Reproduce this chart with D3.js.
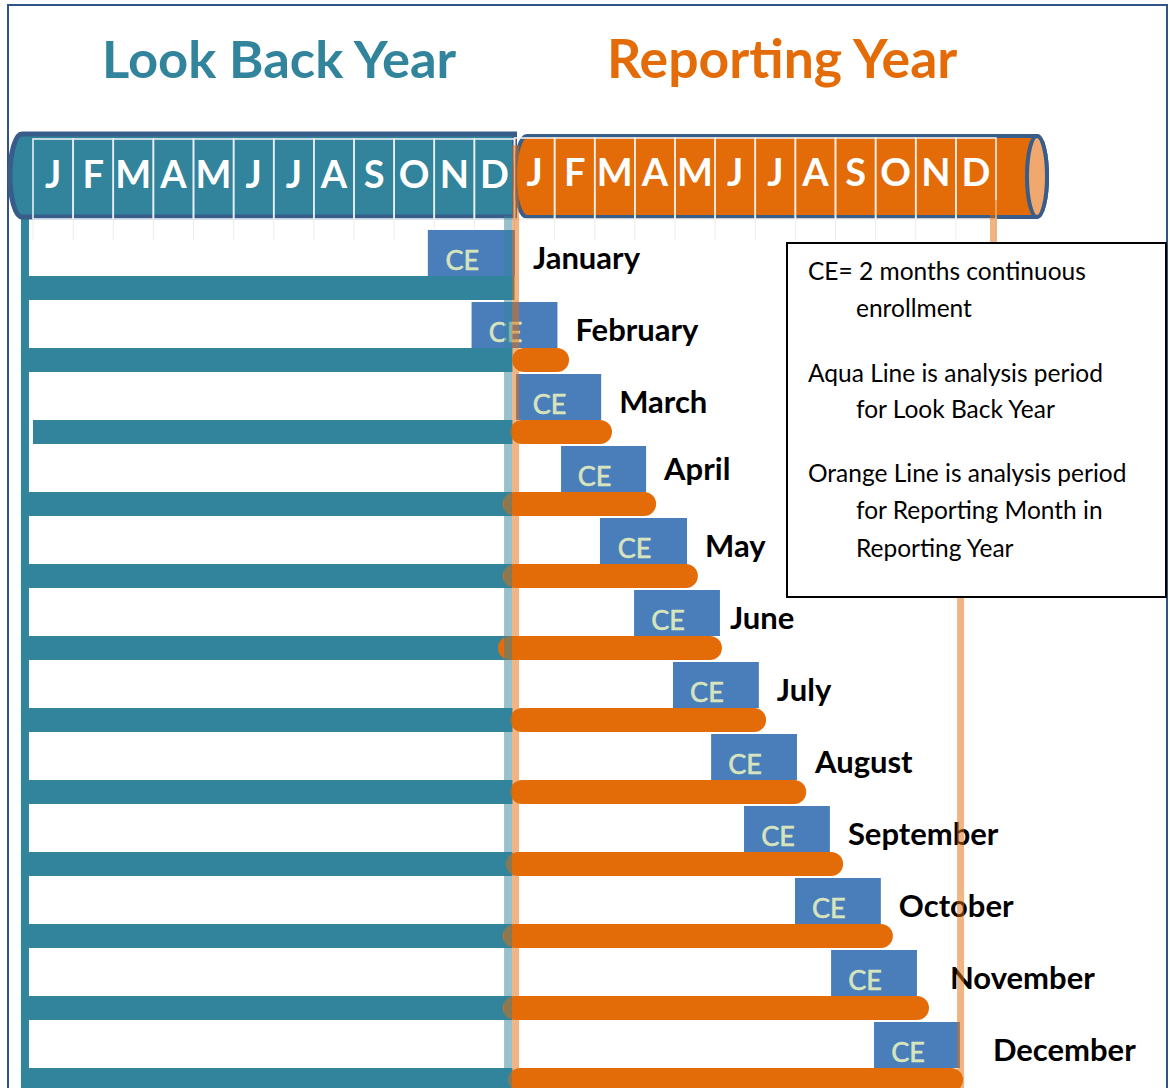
<!DOCTYPE html>
<html>
<head>
<meta charset="utf-8">
<script src="https://cdn.jsdelivr.net/npm/d3@7"></script>
<style>
  html, body { margin: 0; padding: 0; background: #ffffff; }
  svg { display: block; }
  text { font-family: "Lato", "Open Sans", sans-serif; }
</style>
</head>
<body>
<div id="chart"></div>
<script>
// ---------------- DATA (month units: 0 = start of Look Back Year Jan, 12 = start of Reporting Year Jan) ----------------
const reportingMonths = ["January","February","March","April","May","June","July","August","September","October","November","December"];
const headerLetters   = ["J","F","M","A","M","J","J","A","S","O","N","D"];
const yearTitles      = ["Look Back Year", "Reporting Year"];

// aqua (look back year) analysis period per row
const lookBackStart = [-0.3, -0.3, 0.0, -0.3, -0.3, -0.3, -0.3, -0.3, -0.3, -0.3, -0.3, -0.3];
const lookBackEnd   = [12.0, 11.95, 11.95, 11.95, 11.95, 11.95, 11.95, 11.95, 11.95, 11.95, 11.95, 11.95];

// orange (reporting year) analysis period per row (null = none)
const reportStart = [null, 11.94, 11.89, 11.71, 11.71, 11.59, 11.89, 11.89, 11.79, 11.71, 11.71, 11.84];
const reportEnd   = [null, 13.36, 14.43, 15.53, 16.57, 17.17, 18.27, 19.27, 20.19, 21.43, 22.33, 23.18];

// CE (2 months continuous enrollment) boxes
const ceStart = [9.84, 10.93, 12.04, 13.16, 14.13, 14.98, 15.95, 16.90, 17.72, 18.99, 19.89, 20.96];
const ceEnd   = [12.01, 13.07, 14.16, 15.28, 16.30, 17.12, 18.09, 19.04, 19.86, 21.13, 22.03, 23.10];

const legendLines = [
  {text: "CE= 2 months continuous", indent: false},
  {text: "enrollment", indent: true},
  {text: "Aqua Line is analysis period", indent: false},
  {text: "for Look Back Year", indent: true},
  {text: "Orange Line is analysis period", indent: false},
  {text: "for Reporting Month in", indent: true},
  {text: "Reporting Year", indent: true}
];

// ---------------- LAYOUT ----------------
const W = 1170, H = 1088;
const AQUA = "#31849b", ORANGE = "#e36c09", OUTLINE = "#385d8a", CEBLUE = "#4a7ebb", CETEXT = "#d7e4bd";

const svg = d3.select("#chart").append("svg").attr("width", W).attr("height", H);

const x = d3.scaleLinear().domain([0, 24]).range([33, 996]);
const y = d3.scalePoint().domain(reportingMonths).range([288, 1080]);
const BAR = 24;

// outer frame
svg.append("rect").attr("x", 8).attr("y", 5).attr("width", 1159).attr("height", 1120)
  .attr("fill", "none").attr("stroke", "#2e548a").attr("stroke-width", 2);

// titles
svg.append("text").attr("x", 102).attr("y", 78).attr("font-size", 52.5).attr("font-weight", 700)
  .attr("fill", AQUA).text(yearTitles[0]);
svg.append("text").attr("x", 607).attr("y", 78).attr("font-size", 53.5).attr("font-weight", 700)
  .attr("fill", ORANGE).text(yearTitles[1]);

// faint guide ticks below the header
svg.append("g").selectAll("line").data(d3.range(0, 25)).join("line")
  .attr("x1", d => x(d)).attr("x2", d => x(d)).attr("y1", 218).attr("y2", 240)
  .attr("stroke", "#ececec").attr("stroke-width", 1);

// aqua spine
const spineX = x(-0.3);
svg.append("rect").attr("x", spineX).attr("y", 200).attr("width", 8).attr("height", H - 200).attr("fill", AQUA);

// ----- Left cylinder (look back year) -----
const ltop = 134, lbot = 217;
svg.append("path")
  .attr("d", `M22,${ltop} H${x(12)} V${lbot} H22 A12 ${(lbot-ltop)/2} 0 0 1 22,${ltop} Z`)
  .attr("fill", AQUA).attr("stroke", OUTLINE).attr("stroke-width", 5);
const lCells = svg.append("g");
lCells.selectAll("rect").data(d3.range(0, 12)).join("rect")
  .attr("x", d => x(d)).attr("width", d => x(d + 1) - x(d)).attr("y", 139).attr("height", lbot - 139 + 2)
  .attr("fill", "none").attr("stroke", "#e8eef3").attr("stroke-width", 1.6);
lCells.selectAll("text").data(d3.range(0, 12)).join("text")
  .attr("x", d => (x(d) + x(d + 1)) / 2).attr("y", 188).attr("text-anchor", "middle")
  .attr("font-size", 38).attr("font-weight", 700).attr("fill", "#ffffff")
  .text(d => headerLetters[d]);

// ----- Right cylinder (reporting year) -----
const rtop = 136, rbot = 217, rEnd = 1037;
svg.append("path")
  .attr("d", `M527,${rtop} H${rEnd} A10 ${(rbot-rtop)/2} 0 0 1 ${rEnd},${rbot} H527 A12 ${(rbot-rtop)/2} 0 0 1 527,${rtop} Z`)
  .attr("fill", ORANGE).attr("stroke", OUTLINE).attr("stroke-width", 4);
svg.append("ellipse").attr("cx", rEnd).attr("cy", (rtop + rbot) / 2).attr("rx", 10).attr("ry", (rbot - rtop) / 2)
  .attr("fill", "#f0a86e").attr("stroke", OUTLINE).attr("stroke-width", 4);
const rCells = svg.append("g");
rCells.selectAll("rect").data(d3.range(12, 24)).join("rect")
  .attr("x", d => x(d)).attr("width", d => x(d + 1) - x(d)).attr("y", rtop + 2).attr("height", rbot - rtop)
  .attr("fill", "none").attr("stroke", "#f3efe9").attr("stroke-width", 1.6);
rCells.selectAll("text").data(d3.range(12, 24)).join("text")
  .attr("x", d => (x(d) + x(d + 1)) / 2).attr("y", 186).attr("text-anchor", "middle")
  .attr("font-size", 38).attr("font-weight", 700).attr("fill", "#ffffff")
  .text(d => headerLetters[d - 12]);

// ----- rows -----
const rows = reportingMonths.map((m, i) => ({
  m, i, lbS: lookBackStart[i], lbE: lookBackEnd[i], rS: reportStart[i], rE: reportEnd[i], cS: ceStart[i], cE: ceEnd[i]
}));

// CE boxes
const ce = svg.append("g");
ce.selectAll("rect").data(rows).join("rect")
  .attr("x", d => x(d.cS)).attr("width", d => x(d.cE) - x(d.cS))
  .attr("y", d => y(d.m) - BAR / 2 - 46).attr("height", 46)
  .attr("fill", CEBLUE);
ce.selectAll("text").data(rows).join("text")
  .attr("x", d => (x(d.cS) + x(d.cE)) / 2 - 9).attr("y", d => y(d.m) - BAR / 2 - 6)
  .attr("text-anchor", "middle").attr("font-size", 27).attr("fill", CETEXT)
  .attr("stroke", CETEXT).attr("stroke-width", 0.6)
  .text("CE");

// aqua bars
svg.append("g").selectAll("rect").data(rows).join("rect")
  .attr("x", d => x(d.lbS)).attr("width", d => x(d.lbE) - x(d.lbS))
  .attr("y", d => y(d.m) - BAR / 2).attr("height", BAR)
  .attr("fill", AQUA);

// orange bars (rounded)
svg.append("g").selectAll("rect").data(rows.filter(d => d.rS != null)).join("rect")
  .attr("x", d => x(d.rS)).attr("width", d => x(d.rE) - x(d.rS))
  .attr("y", d => y(d.m) - BAR / 2).attr("height", BAR)
  .attr("rx", BAR / 2).attr("ry", BAR / 2)
  .attr("fill", ORANGE);

// month labels
const nudge = {June: -8, November: 15, December: 15};
const labelDy = {April: -5};
svg.append("g").selectAll("text").data(rows).join("text")
  .attr("x", d => x(d.cE) + 18 + (nudge[d.m] || 0))
  .attr("y", d => y(d.m) - 19 + (labelDy[d.m] || 0))
  .attr("font-size", 31).attr("font-weight", 700).attr("fill", "#000000")
  .text(d => d.m);

// translucent period boundary lines (on top)
svg.append("rect").attr("x", x(11.74)).attr("y", 216).attr("width", 8).attr("height", H - 216)
  .attr("fill", AQUA).attr("opacity", 0.5);
svg.append("rect").attr("x", x(11.94)).attr("y", 145).attr("width", 7).attr("height", H - 145)
  .attr("fill", ORANGE).attr("opacity", 0.5);
svg.append("rect").attr("x", x(23.85)).attr("y", 200).attr("width", 7).attr("height", 50)
  .attr("fill", ORANGE).attr("opacity", 0.5);
svg.append("rect").attr("x", x(23.03)).attr("y", 590).attr("width", 7).attr("height", H - 590)
  .attr("fill", ORANGE).attr("opacity", 0.5);

// legend box
const lg = svg.append("g");
lg.append("rect").attr("x", 787).attr("y", 243).attr("width", 379).attr("height", 354)
  .attr("fill", "#ffffff").attr("stroke", "#000000").attr("stroke-width", 2);
const legendBaselines = [280, 317, 382, 418, 482, 519, 557];
lg.selectAll("text").data(legendLines).join("text")
  .attr("x", d => d.indent ? 856 : 808)
  .attr("y", (d, i) => legendBaselines[i])
  .attr("font-size", 24.5).attr("fill", "#000000")
  .text(d => d.text);
</script>
</body>
</html>
